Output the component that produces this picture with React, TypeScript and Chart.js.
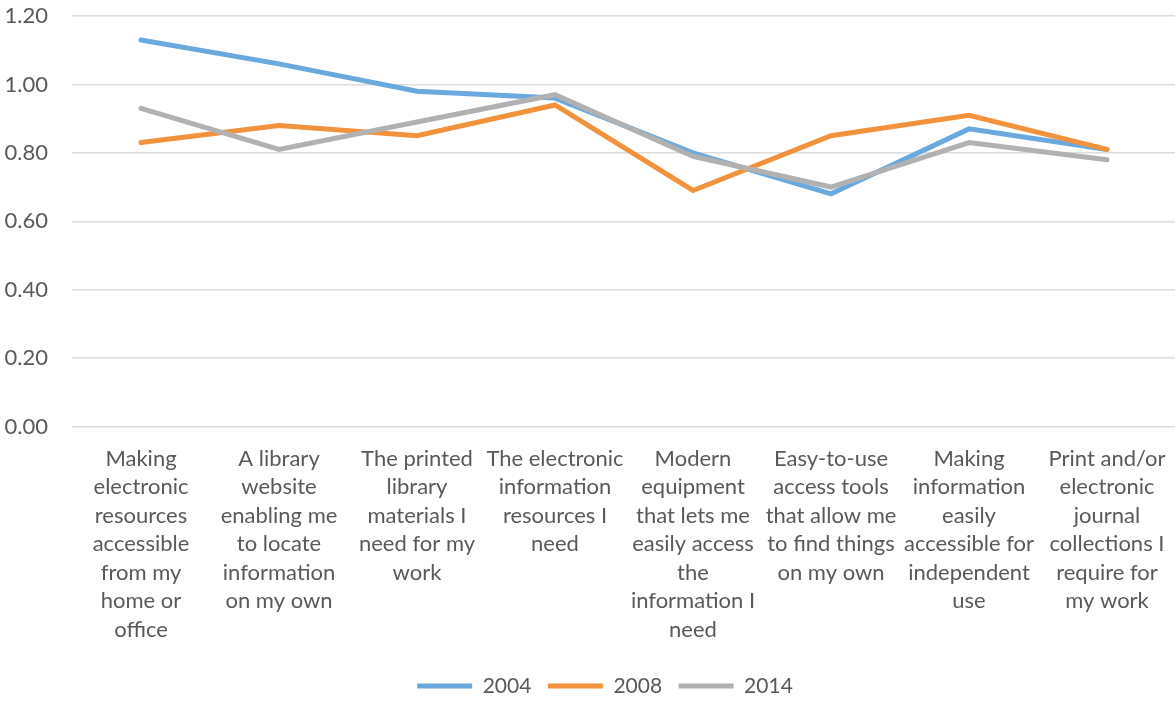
import React, { useEffect, useRef } from "react";
import { Chart, registerables } from "chart.js";

Chart.register(...registerables);

const categories: string[][] = [
  ["Making", "electronic", "resources", "accessible", "from my", "home or", "office"],
  ["A library", "website", "enabling me", "to locate", "information", "on my own"],
  ["The printed", "library", "materials I", "need for my", "work"],
  ["The electronic", "information", "resources I", "need"],
  ["Modern", "equipment", "that lets me", "easily access", "the", "information I", "need"],
  ["Easy-to-use", "access tools", "that allow me", "to find things", "on my own"],
  ["Making", "information", "easily", "accessible for", "independent", "use"],
  ["Print and/or", "electronic", "journal", "collections I", "require for", "my work"],
];

const seriesNames = ["2004", "2008", "2014"];
const values2004 = [1.13, 1.06, 0.98, 0.96, 0.8, 0.68, 0.87, 0.81];
const values2008 = [0.83, 0.88, 0.85, 0.94, 0.69, 0.85, 0.91, 0.81];
const values2014 = [0.93, 0.81, 0.89, 0.97, 0.79, 0.7, 0.83, 0.78];
const seriesColors = ["#6AA9DD", "#F3923D", "#B1B1B1"];

const FONT = "Lato, 'Open Sans', sans-serif";
const TEXT = "#595959";

const legendShift = {
  id: "legendShift",
  afterLayout(chart: any) {
    const l = chart.legend;
    if (!l) return;
    l.left += 17;
    l.right += 17;
    const h = l.bottom - l.top;
    l.top = 659;
    l.bottom = 659 + h;
  },
};

export default function App() {
  const ref = useRef<HTMLCanvasElement | null>(null);

  useEffect(() => {
    if (!ref.current) return;
    const all = [values2004, values2008, values2014];
    const chart = new Chart(ref.current, {
      type: "line",
      data: {
        labels: categories,
        datasets: all.map((vals, i) => ({
          label: seriesNames[i],
          data: vals,
          borderColor: seriesColors[i],
          backgroundColor: seriesColors[i],
          borderWidth: 5,
          borderCapStyle: "round" as const,
          pointRadius: 0,
          pointHoverRadius: 0,
          tension: 0,
          fill: false,
          order: 3 - i,
        })),
      },
      options: {
        animation: false,
        responsive: true,
        maintainAspectRatio: false,
        layout: { padding: { left: 0, right: 4, top: 16, bottom: 0 } },
        scales: {
          x: {
            offset: true,
            grid: { display: false, drawTicks: false },
            border: { display: false },
            ticks: {
              autoSkip: false,
              maxRotation: 0,
              minRotation: 0,
              padding: 18,
              color: TEXT,
              font: { family: FONT, size: 22, lineHeight: 1.295 },
            },
            afterFit: (scale: any) => {
              scale.height = 228;
              scale.paddingLeft = 0;
              scale.paddingRight = 0;
            },
          },
          y: {
            min: 0,
            max: 1.2,
            grid: { color: "#DDDDDD", lineWidth: 1.5, drawTicks: false },
            border: { display: false },
            ticks: {
              stepSize: 0.2,
              padding: 24,
              color: TEXT,
              font: { family: FONT, size: 22 },
              callback: (v: any) => Number(v).toFixed(2),
            },
            afterFit: (scale: any) => {
              scale.width = 72;
              scale.paddingTop = 0;
              scale.paddingBottom = 0;
            },
          },
        },
        plugins: {
          tooltip: { enabled: false },
          legend: {
            position: "bottom",
            labels: {
              usePointStyle: true,
              pointStyle: "line",
              pointStyleWidth: 55,
              padding: 16.5,
              color: TEXT,
              font: { family: FONT, size: 21 },
              sort: (a: any, b: any) => a.datasetIndex - b.datasetIndex,
            },
          },
        },
      },
      plugins: [legendShift],
    });
    return () => chart.destroy();
  }, []);

  return (
    <div
      style={{
        position: "absolute",
        left: 0,
        top: 0,
        width: 1175,
        height: 702,
        overflow: "hidden",
        background: "#fff",
      }}
    >
      <div style={{ position: "relative", width: 1180, height: 702 }}>
        <canvas ref={ref} />
      </div>
    </div>
  );
}
